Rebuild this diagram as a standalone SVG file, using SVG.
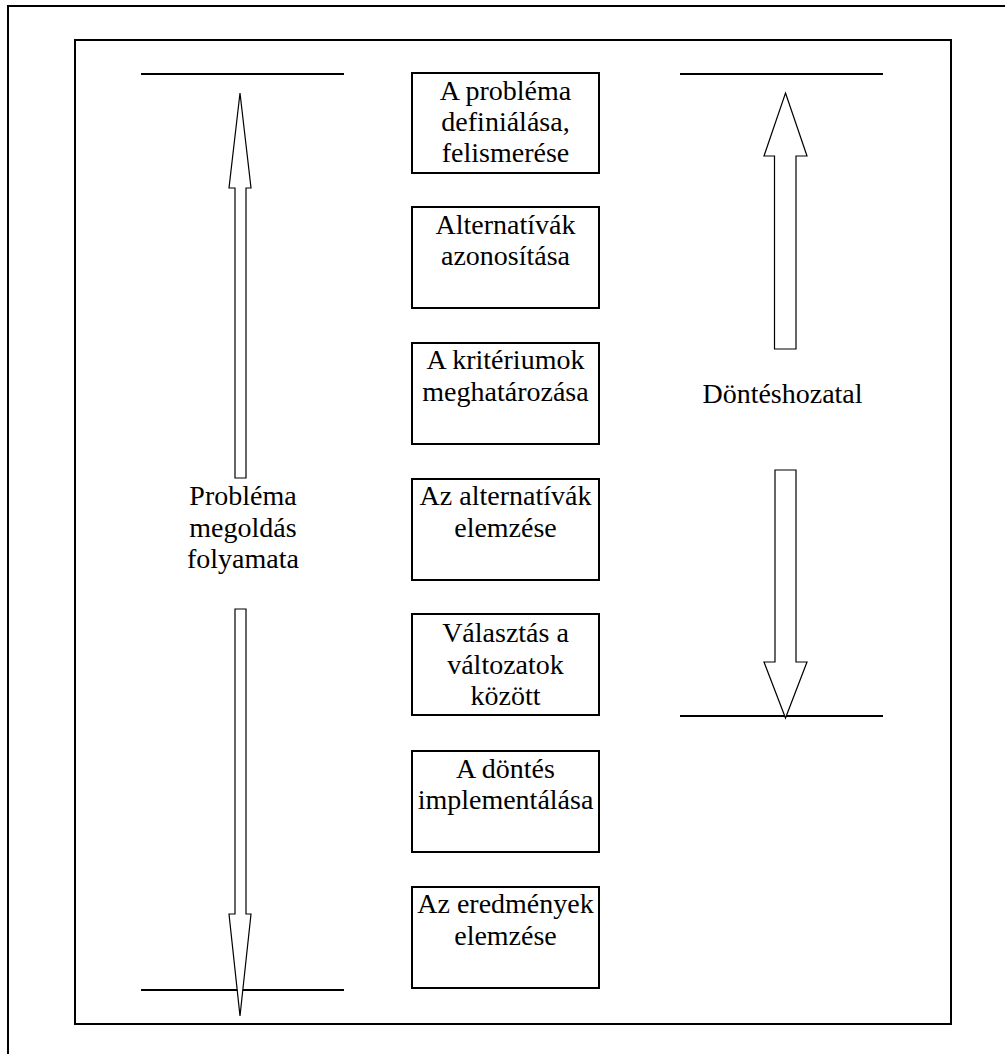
<svg xmlns="http://www.w3.org/2000/svg" width="1005" height="1054" viewBox="0 0 1005 1054">
  <style>
    .frame { fill: none; stroke: #000; stroke-width: 2; }
    .rule { stroke: #000; stroke-width: 2; fill: none; }
    .box { fill: #fff; stroke: #000; stroke-width: 2; }
    .arrow { fill: #fff; stroke: #000; stroke-width: 1.2; stroke-linejoin: miter; }
    text { font-family: "Liberation Serif", "Times New Roman", serif; font-size: 28px; fill: #000; text-anchor: middle; }
  </style>
  <rect width="1005" height="1054" fill="#fff"/>

  <!-- page frames -->
  <g id="frames">
    <path class="frame" d="M8,1054 V6 H1005"/>
    <rect class="frame" x="75" y="40" width="876" height="984"/>
  </g>

  <!-- connectors: boundary rules and block arrows -->
  <g id="connectors">
    <line class="rule" x1="141" y1="74" x2="344" y2="74"/>
    <line class="rule" x1="141" y1="990" x2="344" y2="990"/>
    <line class="rule" x1="680" y1="74" x2="883" y2="74"/>
    <line class="rule" x1="680" y1="716" x2="883" y2="716"/>

    <!-- problem-solving span -->
    <polygon class="arrow" points="240,93 251,188 246,188 246,478 235,478 235,188 229,188"/>
    <polygon class="arrow" points="235,609 246,609 246,914 251,914 240,1016 229,914 235,914"/>

    <!-- decision-making span -->
    <polygon class="arrow" points="785.5,93 807,156 796,156 796,349 774.5,349 774.5,156 764,156"/>
    <polygon class="arrow" points="775,470 796,470 796,662 807,662 785.5,718 764,662 775,662"/>
  </g>

  <!-- side labels -->
  <g id="label-problem">
    <text x="243" y="505">Probléma</text>
    <text x="243" y="537">megoldás</text>
    <text x="243" y="568">folyamata</text>
  </g>
  <g id="label-decision">
    <text x="782.5" y="403">Döntéshozatal</text>
  </g>

  <!-- process steps -->
  <g id="step1">
    <rect class="box" x="412" y="73" width="187" height="100"/>
    <text x="505.5" y="100">A probléma</text>
    <text x="505.5" y="131">definiálása,</text>
    <text x="505.5" y="162">felismerése</text>
  </g>
  <g id="step2">
    <rect class="box" x="412" y="207" width="187" height="101"/>
    <text x="505.5" y="234">Alternatívák</text>
    <text x="505.5" y="265">azonosítása</text>
  </g>
  <g id="step3">
    <rect class="box" x="412" y="343" width="187" height="101"/>
    <text x="505.5" y="369">A kritériumok</text>
    <text x="505.5" y="401">meghatározása</text>
  </g>
  <g id="step4">
    <rect class="box" x="412" y="479" width="187" height="101"/>
    <text x="505.5" y="505">Az alternatívák</text>
    <text x="505.5" y="537">elemzése</text>
  </g>
  <g id="step5">
    <rect class="box" x="412" y="614" width="187" height="101"/>
    <text x="505.5" y="642">Választás a</text>
    <text x="505.5" y="674">változatok</text>
    <text x="505.5" y="705">között</text>
  </g>
  <g id="step6">
    <rect class="box" x="412" y="751" width="187" height="101"/>
    <text x="505.5" y="778">A döntés</text>
    <text x="505.5" y="809">implementálása</text>
  </g>
  <g id="step7">
    <rect class="box" x="412" y="887" width="187" height="101"/>
    <text x="505.5" y="913">Az eredmények</text>
    <text x="505.5" y="945">elemzése</text>
  </g>
</svg>
